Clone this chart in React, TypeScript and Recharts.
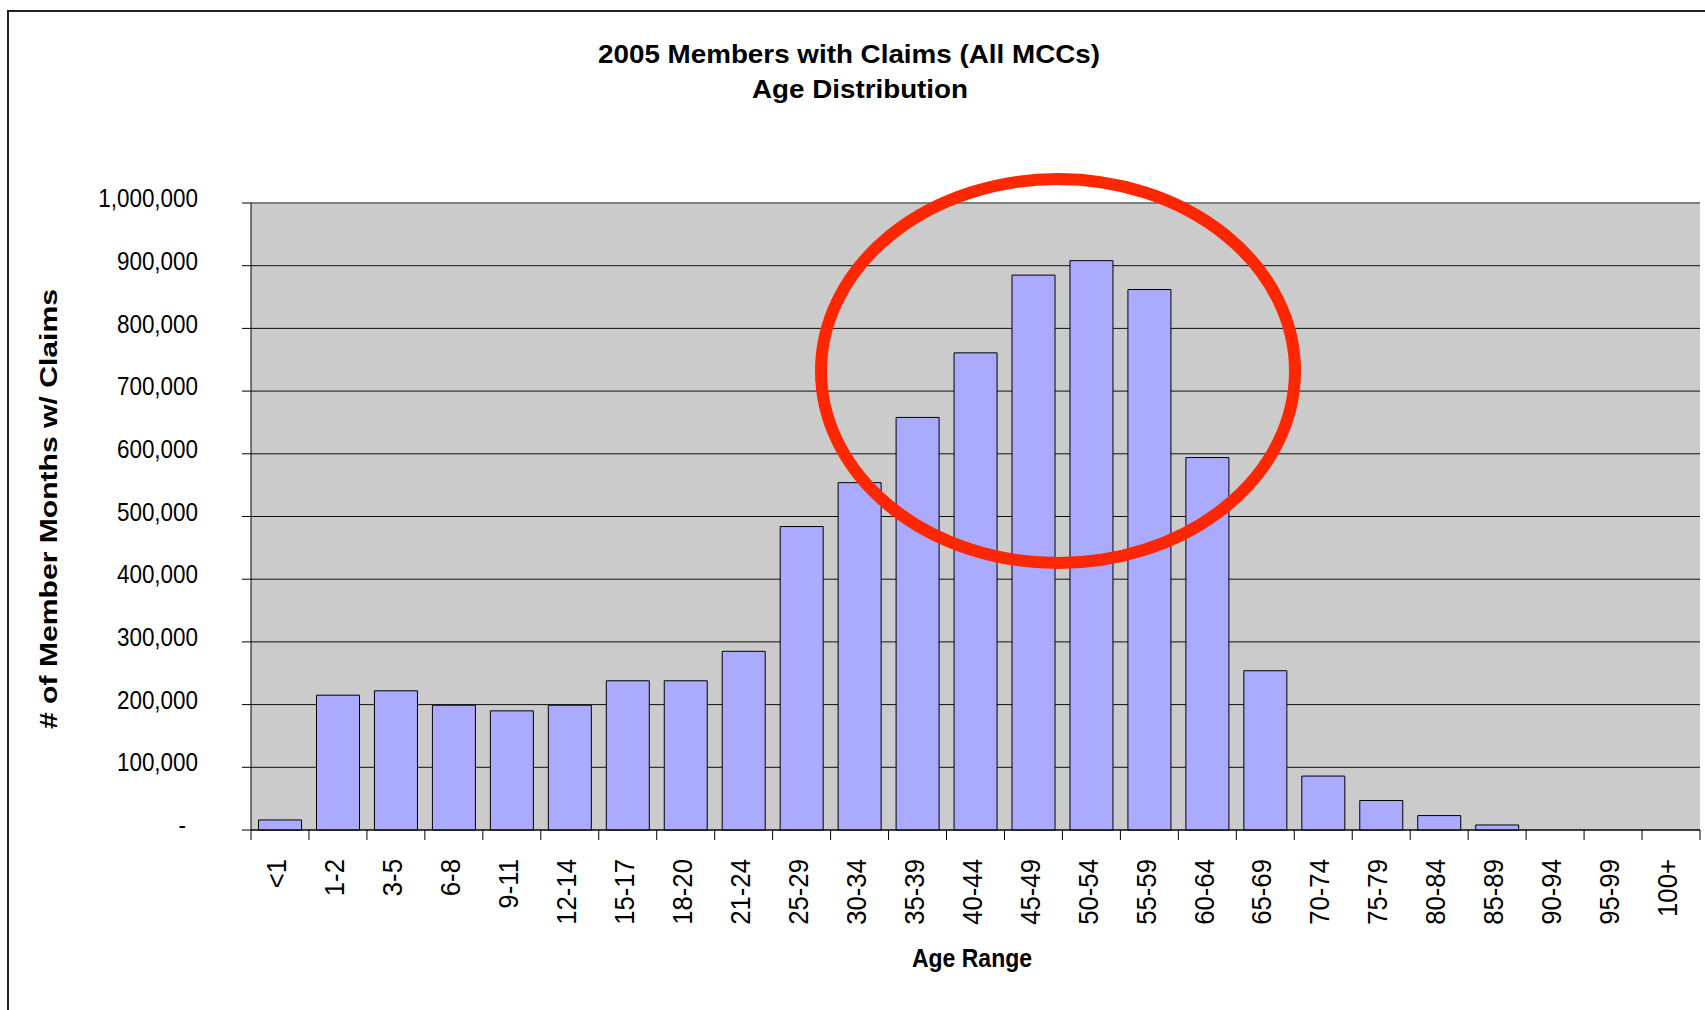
import React from "react";
import { BarChart, Bar, XAxis, YAxis, CartesianGrid, ReferenceLine } from "recharts";

// age bands and member months with claims
const ageRanges = [
    "<1", "1-2", "3-5", "6-8", "9-11", "12-14", "15-17", "18-20", "21-24", "25-29",
    "30-34", "35-39", "40-44", "45-49", "50-54", "55-59", "60-64", "65-69", "70-74",
    "75-79", "80-84", "85-89", "90-94", "95-99", "100+",
];
const memberMonths = [
    16000, 215000, 222000, 199000, 190000, 199000, 238000, 238000, 285000, 484000,
    554000, 658000, 761000, 885000, 908000, 862000, 594000, 254000, 86000,
    47000, 23000, 8000, 0, 0, 0,
];
const yTicks = [0, 100000, 200000, 300000, 400000, 500000, 600000, 700000, 800000, 900000, 1000000];

const chartTitle = "2005 Members with Claims (All MCCs)";
const chartSubtitle = "Age Distribution";
const yTitle = "# of Member Months w/ Claims";
const xTitle = "Age Range";

const FONT = '"Liberation Sans", Arial, sans-serif';
const W = 1705;
const H = 1010;
const PLOT_BOTTOM = 830;

const data = ageRanges.map((age, i) => ({ age, value: memberMonths[i] }));

// ticks sit on the category boundaries, labels read bottom-to-top
function XTick(props: any) {
    const { x, payload, index } = props;
    const half = payload && payload.offset ? payload.offset : 1449 / ageRanges.length / 2;
    return (
        <g>
            <line x1={x - half} x2={x - half} y1={PLOT_BOTTOM} y2={PLOT_BOTTOM + 10} stroke="#000" />
            {index === ageRanges.length - 1 && (
                <line x1={x + half} x2={x + half} y1={PLOT_BOTTOM} y2={PLOT_BOTTOM + 10} stroke="#000" />
            )}
            <text
                transform={`translate(${x},859) rotate(-90) scale(0.92,1)`}
                textAnchor="end"
                dy="0.22em"
                fontFamily={FONT}
                fontSize={28}
                fill="#000"
            >
                {payload.value}
            </text>
        </g>
    );
}

function YTick(props: any) {
    const { x, y, payload } = props;
    const v = payload.value as number;
    const label = v === 0 ? "-" : v.toLocaleString("en-US");
    const tx = v === 0 ? x - 12 : x;
    return (
        <text
            transform={`translate(${tx},${y - 5}) scale(0.88,1)`}
            dy="0.36em"
            textAnchor="end"
            fontFamily={FONT}
            fontSize={25.5}
            fill="#000"
        >
            {label}
        </text>
    );
}

export default function App() {
    return (
        <div style={{ position: "absolute", left: 0, top: 0, width: W, height: H, overflow: "hidden", background: "#fff" }}>
            <BarChart
                width={W}
                height={H}
                data={data}
                margin={{ top: 203, right: 5, bottom: 30, left: 11 }}
                barCategoryGap="13%"
            >
                <CartesianGrid vertical={false} stroke="#111" fill="#cbcbcb" fillOpacity={1} />
                <ReferenceLine y={1000000} stroke="#808080" strokeWidth={2} />
                <XAxis
                    dataKey="age"
                    interval={0}
                    height={150}
                    tickLine={false}
                    tickSize={10}
                    axisLine={{ stroke: "#000" }}
                    tick={<XTick />}
                />
                <YAxis
                    width={240}
                    domain={[0, 1000000]}
                    ticks={yTicks}
                    interval={0}
                    tickSize={9}
                    tickMargin={44}
                    axisLine={{ stroke: "#000" }}
                    tickLine={{ stroke: "#000" }}
                    tick={<YTick />}
                />
                <Bar dataKey="value" fill="#aaaaff" stroke="#000" strokeWidth={1} isAnimationActive={false} />
            </BarChart>
            <svg
                width={W}
                height={H}
                style={{ position: "absolute", left: 0, top: 0, pointerEvents: "none" }}
            >
                {/* chart frame, cropped on the right and bottom */}
                <line x1={7} x2={W} y1={11} y2={11} stroke="#222" strokeWidth={2} />
                <line x1={8} x2={8} y1={10} y2={H} stroke="#222" strokeWidth={2} />
                <text x={598} y={63} fontFamily={FONT} fontSize={26} fontWeight="bold" textLength={502} lengthAdjust="spacingAndGlyphs">
                    {chartTitle}
                </text>
                <text x={752} y={98} fontFamily={FONT} fontSize={26} fontWeight="bold" textLength={216} lengthAdjust="spacingAndGlyphs">
                    {chartSubtitle}
                </text>
                <text
                    transform="translate(57,509) rotate(-90)"
                    textAnchor="middle"
                    fontFamily={FONT}
                    fontSize={24}
                    fontWeight="bold"
                    textLength={440}
                    lengthAdjust="spacingAndGlyphs"
                >
                    {yTitle}
                </text>
                <text x={912} y={967} fontFamily={FONT} fontSize={26} fontWeight="bold" textLength={120} lengthAdjust="spacingAndGlyphs">
                    {xTitle}
                </text>
                {/* hand-drawn highlight around the 35-64 peak */}
                <ellipse cx={1058} cy={371} rx={237} ry={192} fill="none" stroke="#ff2600" strokeWidth={12} />
            </svg>
        </div>
    );
}
